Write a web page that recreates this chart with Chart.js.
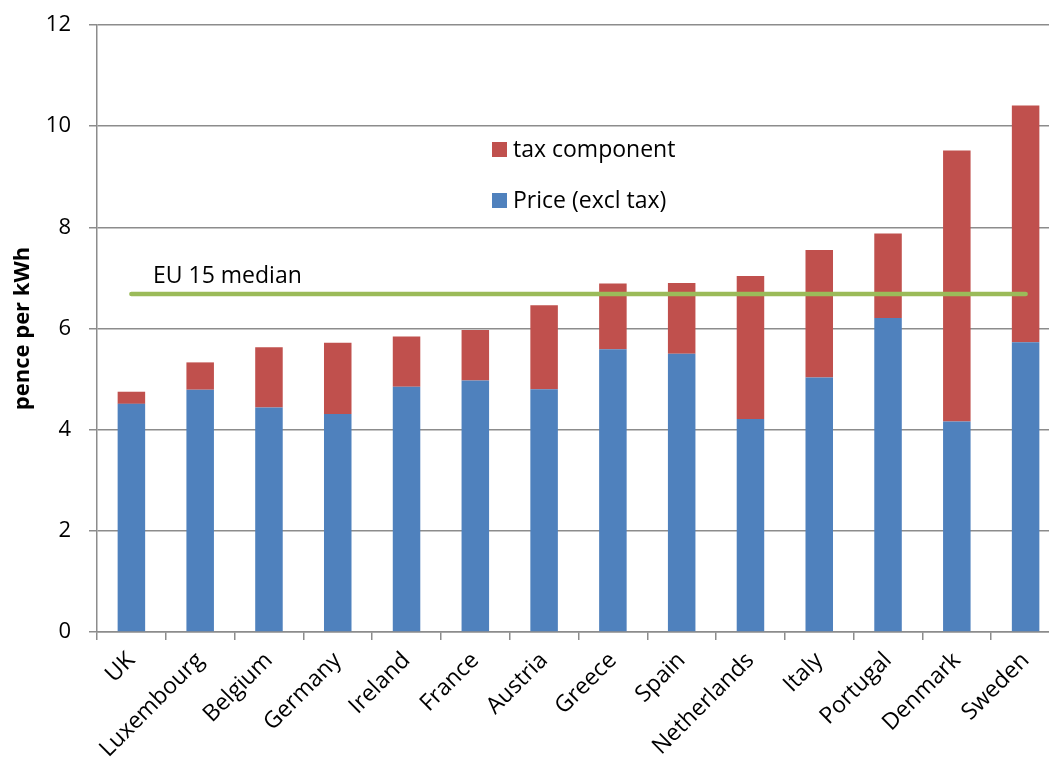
<!DOCTYPE html>
<html>
<head>
<meta charset="utf-8">
<title>Electricity prices, EU 15</title>
<script src="https://cdn.jsdelivr.net/npm/chart.js@4.4.1/dist/chart.umd.min.js"></script>
<style>
  html, body { margin: 0; padding: 0; background: #ffffff; overflow: hidden; }
  #wrap { position: absolute; left: 0; top: 0; width: 1060px; height: 758px; }
</style>
</head>
<body>
<div id="wrap"><canvas id="chart"></canvas></div>
<script>
// Domestic electricity prices, pence per kWh
const countries = ['UK', 'Luxembourg', 'Belgium', 'Germany', 'Ireland', 'France', 'Austria',
                   'Greece', 'Spain', 'Netherlands', 'Italy', 'Portugal', 'Denmark', 'Sweden'];
const priceExclTax = [4.51, 4.79, 4.44, 4.31, 4.85, 4.97, 4.80, 5.59, 5.50, 4.21, 5.03, 6.21, 4.16, 5.73];
const taxComponent = [0.24, 0.54, 1.19, 1.41, 0.99, 1.00, 1.66, 1.30, 1.40, 2.83, 2.52, 1.67, 5.36, 4.68];
const eu15Median   = [6.68, 6.68, 6.68, 6.68, 6.68, 6.68, 6.68, 6.68, 6.68, 6.68, 6.68, 6.68, 6.68, 6.68];
const yTicks = [0, 2, 4, 6, 8, 10, 12];

const BLUE = '#4F81BD', RED = '#C0504D', GREEN = '#9BBB59', GRID = '#8c8c8c';
const FONT = '"Open Sans", "Noto Sans", sans-serif';

// Legend block and median caption drawn inside the plot area
const annotations = {
  id: 'annotations',
  afterDatasetsDraw(chart) {
    const { ctx, chartArea, scales } = chart;
    ctx.save();
    ctx.font = '23px ' + FONT;
    ctx.fillStyle = '#000';
    ctx.textBaseline = 'alphabetic';
    ctx.textAlign = 'left';

    // legend
    const lx = chartArea.left + 395;
    const items = [[RED, 'tax component', chartArea.top + 117], [BLUE, 'Price (excl tax)', chartArea.top + 168]];
    items.forEach(([c, t, y]) => {
      ctx.fillStyle = c;
      ctx.fillRect(lx, y, 15, 15);
      ctx.fillStyle = '#000';
      ctx.fillText(t, lx + 21, y + 15);
    });

    // median caption
    const my = scales.y.getPixelForValue(eu15Median[0]);
    ctx.fillText('EU 15 median', chartArea.left + 56, my - 11);
    ctx.restore();
  }
};

new Chart(document.getElementById('chart'), {
  type: 'bar',
  data: {
    labels: countries,
    datasets: [
      { label: 'EU 15 median', type: 'line', data: eu15Median, stack: 'median', order: 0,
        borderColor: GREEN, borderWidth: 4.5, borderCapStyle: 'round', pointRadius: 0,
        fill: false, tension: 0 },
      { label: 'Price (excl tax)', data: priceExclTax, backgroundColor: BLUE, order: 1,
        barPercentage: 0.4, categoryPercentage: 1.0 },
      { label: 'tax component', data: taxComponent, backgroundColor: RED, order: 1,
        barPercentage: 0.4, categoryPercentage: 1.0 }
    ]
  },
  options: {
    responsive: true,
    maintainAspectRatio: false,
    animation: false,
    layout: { padding: { top: 25, left: 0, right: 0, bottom: 0 } },
    plugins: { legend: { display: false }, tooltip: { enabled: false } },
    scales: {
      x: {
        stacked: true,
        afterFit(s) { s.height = 126; },
        grid: { display: true, drawOnChartArea: false, drawTicks: true, tickLength: 8,
                color: GRID, lineWidth: 1.5, offset: true },
        border: { display: true, color: GRID, width: 1.5 },
        ticks: { autoSkip: false, maxRotation: 45, minRotation: 45, padding: 7,
                 color: '#000', font: { family: FONT, size: 23 } }
      },
      y: {
        stacked: true,
        min: 0, max: 12,
        afterFit(s) { s.width = 97; s.paddingTop = 0; s.paddingBottom = 0; },
        afterBuildTicks(s) { s.ticks = yTicks.map(v => ({ value: v })); },
        grid: { color: GRID, lineWidth: 1.5, drawTicks: true, tickLength: 8 },
        border: { display: true, color: GRID, width: 1.5 },
        ticks: { padding: 18, color: '#000', font: { family: FONT, size: 22 } },
        title: { display: true, text: 'pence per kWh', color: '#000', padding: { top: 10, bottom: 0 },
                 font: { family: FONT, size: 22, weight: 'bold' } }
      }
    }
  },
  plugins: [annotations]
});
</script>
</body>
</html>
